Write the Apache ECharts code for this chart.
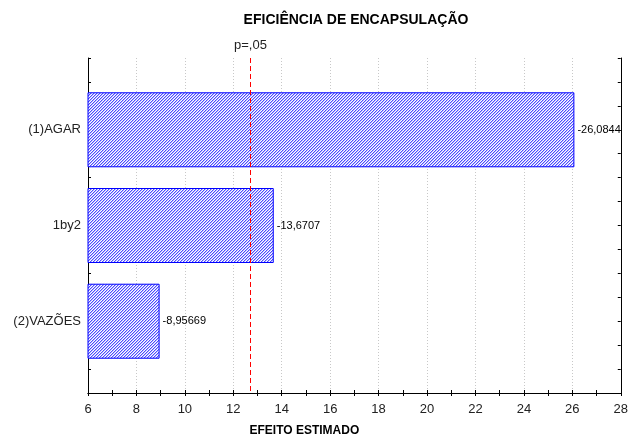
<!DOCTYPE html>
<html>
<head>
<meta charset="utf-8">
<script src="https://cdn.jsdelivr.net/npm/echarts@6/dist/echarts.min.js"></script>
<style>
  html, body { margin: 0; padding: 0; background: #fff; }
  #chart { width: 631px; height: 443px; }
</style>
</head>
<body>
<div id="chart"></div>
<script>
// dados do gráfico de Pareto
const categories = ['(1)AGAR', '1by2', '(2)VAZÕES'];
const effects = [-26.0844, -13.6707, -8.95669];
const effectLabels = ['-26,0844', '-13,6707', '-8,95669'];
const pCritical = 12.706;

const FONT = "'Liberation Sans', Arial, sans-serif";

// cada categoria fica entre duas linhas vazias (como no Statistica)
let yCats = [''];
let barData = [null];
let labelMap = {};
categories.forEach((c, i) => {
    yCats.push(c, '');
    barData.push(Math.abs(effects[i]), null);
    labelMap[c] = effectLabels[i];
});

// padrão hachurado, pixel a pixel
let hatch = document.createElement('canvas');
hatch.width = 3;
hatch.height = 3;
let ctx = hatch.getContext('2d');
const hatchColors = ['#4b4bff', '#b8b8ff', '#ffffff'];
for (let x = 0; x < 3; x++) {
    for (let y = 0; y < 3; y++) {
        ctx.fillStyle = hatchColors[(x + y) % 3];
        ctx.fillRect(x, y, 1, 1);
    }
}

let chart = echarts.init(document.getElementById('chart'));

let option = {
    animation: false,
    title: {
        text: 'EFICIÊNCIA DE ENCAPSULAÇÃO',
        left: 351,
        top: 8,
        textAlign: 'center',
        textStyle: { fontFamily: FONT, fontSize: 14, fontWeight: 'bold', color: '#000' }
    },
    grid: { left: 88, right: 9, top: 58, bottom: 50 },
    xAxis: [{
        type: 'value',
        min: 6,
        max: 28,
        interval: 2,
        name: 'EFEITO ESTIMADO',
        nameLocation: 'middle',
        nameGap: 32,
        nameTextStyle: { fontFamily: FONT, fontSize: 12, fontWeight: 'bold', color: '#000', padding: [0, 100, 0, 0] },
        axisLine: { show: true, lineStyle: { color: '#000' } },
        axisTick: { show: true, inside: true, length: 3, lineStyle: { color: '#000' } },
        minorTick: { show: true, splitNumber: 2, length: 3, lineStyle: { color: '#000' } },
        axisLabel: { fontFamily: FONT, fontSize: 13, color: '#222', margin: 10 },
        splitLine: { show: true, lineStyle: { color: '#c8c8c8', type: [1, 2] } }
    }, {
        type: 'value',
        position: 'top',
        min: 6,
        max: 28,
        interval: 2,
        axisLine: { show: true, lineStyle: { color: '#000' } },
        axisTick: { show: true, inside: true, length: 3, lineStyle: { color: '#000' } },
        minorTick: { show: true, splitNumber: 2, length: 3, lineStyle: { color: '#000' } },
        axisLabel: { show: false },
        splitLine: { show: false }
    }],
    yAxis: [{
        type: 'category',
        data: yCats,
        inverse: true,
        axisLine: { show: true, lineStyle: { color: '#000' } },
        axisTick: { show: false },
        axisLabel: { fontFamily: FONT, fontSize: 13, color: '#222', margin: 7, interval: 0 },
        splitLine: { show: false }
    }, {
        type: 'value',
        position: 'right',
        min: 0,
        max: 14,
        interval: 1,
        axisLine: { show: true, lineStyle: { color: '#000' } },
        axisTick: { show: true, inside: true, length: 3, lineStyle: { color: '#000' } },
        axisLabel: { show: false },
        splitLine: { show: false }
    }, {
        type: 'value',
        position: 'left',
        min: 0,
        max: 14,
        interval: 1,
        axisLine: { show: false },
        axisTick: { show: true, inside: true, length: 3, lineStyle: { color: '#000' } },
        axisLabel: { show: false },
        splitLine: { show: false }
    }],
    series: [{
        type: 'bar',
        data: barData,
        barWidth: 75,
        itemStyle: {
            color: { image: hatch, repeat: 'repeat' },
            borderColor: '#0000ff',
            borderWidth: 1
        },
        label: {
            show: true,
            position: 'right',
            distance: 3,
            fontFamily: FONT,
            fontSize: 11,
            color: '#000',
            formatter: p => labelMap[p.name] || ''
        },
        markLine: {
            silent: true,
            symbol: 'none',
            lineStyle: { color: '#ff0000', type: [5, 3], width: 1 },
            label: {
                show: true,
                position: 'start',
                distance: 6,
                formatter: 'p=,05',
                fontFamily: FONT,
                fontSize: 13,
                color: '#222'
            },
            data: [{ xAxis: pCritical }]
        }
    }]
};

chart.setOption(option);
</script>
</body>
</html>
